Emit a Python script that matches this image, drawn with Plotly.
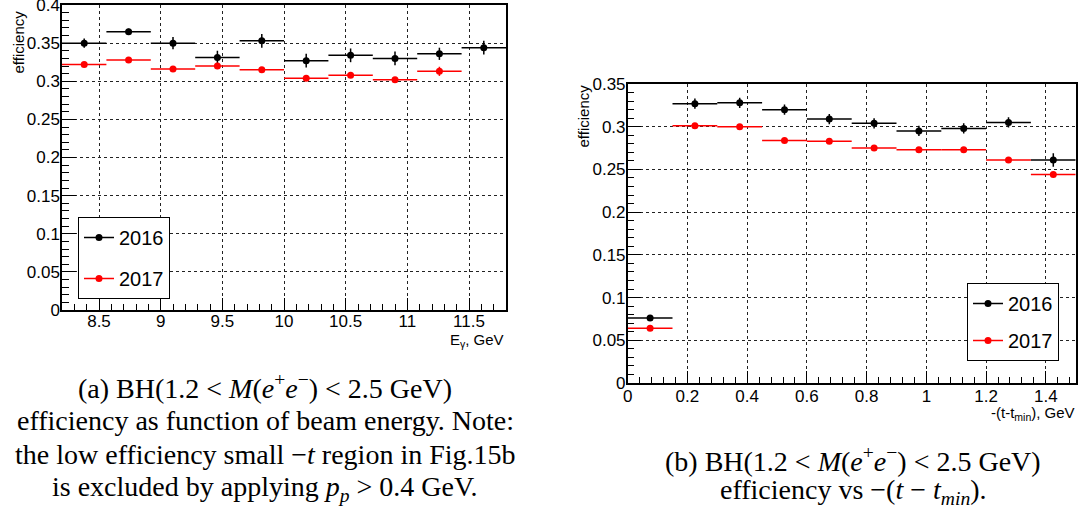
import plotly.graph_objects as go

# ---------------- data ----------------
# (a) efficiency vs beam energy
e_centers = [8.38, 8.74, 9.10, 9.46, 9.82, 10.18, 10.54, 10.90, 11.26, 11.62]
e_halfwidth = [0.18, 0.18, 0.18, 0.18, 0.18, 0.18, 0.18, 0.18, 0.18, 0.18]
eff16_E = [0.350, 0.365, 0.350, 0.331, 0.353, 0.327, 0.334, 0.330, 0.336, 0.344]
err16_E = [0.006, 0.004, 0.008, 0.009, 0.009, 0.009, 0.009, 0.009, 0.008, 0.009]
eff17_E = [0.322, 0.328, 0.316, 0.320, 0.315, 0.304, 0.308, 0.302, 0.313, None]
err17_E = [0.002, 0.002, 0.002, 0.004, 0.002, 0.002, 0.002, 0.002, 0.006, 0.0]

# (b) efficiency vs -(t - tmin)
t_centers = [0.075, 0.225, 0.375, 0.525, 0.675, 0.825, 0.975, 1.125, 1.275, 1.425]
t_halfwidth = [0.075, 0.075, 0.075, 0.075, 0.075, 0.075, 0.075, 0.075, 0.075, 0.075]
eff16_t = [0.076, 0.327, 0.328, 0.320, 0.309, 0.304, 0.295, 0.298, 0.305, 0.261]
err16_t = [0.002, 0.006, 0.006, 0.006, 0.006, 0.006, 0.006, 0.006, 0.006, 0.008]
eff17_t = [0.064, 0.301, 0.300, 0.284, 0.283, 0.275, 0.273, 0.273, 0.261, 0.244]
err17_t = [0.002, 0.002, 0.002, 0.002, 0.002, 0.002, 0.002, 0.002, 0.002, 0.002]

series_names = ["2016", "2017"]
series_colors = ["#000000", "#ff0000"]

caption_a = [
    "(a) BH(1.2 &lt; <i>M</i>(<i>e</i><sup>+</sup><i>e</i><sup>−</sup>) &lt; 2.5 GeV)",
    "efficiency as function of beam energy. Note:",
    "the low efficiency small −<i>t</i> region in Fig.15b",
    "is excluded by applying <i>p</i><sub><i>p</i></sub> &gt; 0.4 GeV.",
]
caption_b = [
    "(b) BH(1.2 &lt; <i>M</i>(<i>e</i><sup>+</sup><i>e</i><sup>−</sup>) &lt; 2.5 GeV)",
    "efficiency vs −(<i>t</i> − <i>t</i><sub><i>min</i></sub>).",
]

W, H = 1079, 518
SANS = "Liberation Sans, Arial, sans-serif"
SERIF = "Liberation Serif, Times New Roman, serif"

fig = go.Figure()


def add_hist(x, hw, y, err, color, xa, ya):
    fig.add_trace(go.Scatter(
        x=x, y=y, mode="markers", xaxis=xa, yaxis=ya, showlegend=False,
        marker=dict(color=color, size=7, symbol="circle"),
        error_x=dict(type="data", array=hw, symmetric=True, color=color,
                     thickness=1.5, width=0),
        error_y=dict(type="data", array=err, symmetric=True, color=color,
                     thickness=1.5, width=0),
        hoverinfo="x+y",
    ))


add_hist(e_centers, e_halfwidth, eff16_E, err16_E, series_colors[0], "x", "y")
add_hist(e_centers, e_halfwidth, eff17_E, err17_E, series_colors[1], "x", "y")
add_hist(t_centers, t_halfwidth, eff16_t, err16_t, series_colors[0], "x2", "y2")
add_hist(t_centers, t_halfwidth, eff17_t, err17_t, series_colors[1], "x2", "y2")

# legend entries (marker with line, ROOT style)
for lg, xa, ya in [("legend", "x", "y"), ("legend2", "x2", "y2")]:
    for name, col in zip(series_names, series_colors):
        fig.add_trace(go.Scatter(
            x=[None], y=[None], mode="lines+markers", name=name,
            xaxis=xa, yaxis=ya, legend=lg, legendgroup=lg + name,
            line=dict(color=col, width=1.5),
            marker=dict(color=col, size=7),
        ))

grid = dict(showgrid=True, gridcolor="#222222", gridwidth=1, griddash="dot",
            zeroline=False, showline=True, linecolor="black", linewidth=1.5,
            mirror=True, ticks="inside", tickcolor="black", automargin=False,
            ticklabeloverflow="allow",
            tickfont=dict(family=SANS, size=17, color="black"))

fig.update_layout(
    width=W, height=H, margin=dict(l=0, r=0, t=0, b=0, autoexpand=False),
    paper_bgcolor="white", plot_bgcolor="white", showlegend=True,
    xaxis=dict(domain=[62 / W, 506 / W], range=[8.2, 11.8], dtick=0.5, tick0=0,
               ticklen=12, anchor="y", ticklabelstandoff=-5,
               minor=dict(ticks="inside", ticklen=6, dtick=0.1, tick0=0,
                          tickcolor="black", showgrid=False), **grid),
    yaxis=dict(domain=[1 - 310 / H, 1 - 5 / H], range=[0, 0.4], dtick=0.05, tick0=0,
               ticklen=14, anchor="x", ticklabelstandoff=-3,
               minor=dict(ticks="inside", ticklen=7, dtick=0.01, tick0=0,
                          tickcolor="black", showgrid=False), **grid),
    xaxis2=dict(domain=[627.7 / W, 1075.7 / W], range=[0, 1.5], dtick=0.2, tick0=0,
                ticklen=12, anchor="y2", ticklabelstandoff=-3,
                minor=dict(ticks="inside", ticklen=6, dtick=0.04, tick0=0,
                           tickcolor="black", showgrid=False), **grid),
    yaxis2=dict(domain=[1 - 383 / H, 1 - 84 / H], range=[0, 0.35], dtick=0.05, tick0=0,
                ticklen=14, anchor="x2", ticklabelstandoff=-3,
                minor=dict(ticks="inside", ticklen=7, dtick=0.01, tick0=0,
                           tickcolor="black", showgrid=False), **grid),
    legend=dict(x=78 / W, y=1 - 217 / H, xanchor="left", yanchor="top",
                bgcolor="white", bordercolor="black", borderwidth=1,
                font=dict(family=SANS, size=20, color="black"),
                tracegroupgap=12, traceorder="grouped", itemwidth=30),
    legend2=dict(x=967 / W, y=1 - 283 / H, xanchor="left", yanchor="top",
                 bgcolor="white", bordercolor="black", borderwidth=1,
                 font=dict(family=SANS, size=20, color="black"),
                 tracegroupgap=8, traceorder="grouped", itemwidth=30),
)

ann = []
# axis titles
ann.append(dict(text="efficiency", x=18 / W, y=1 - 9 / H, xref="paper", yref="paper",
                xanchor="center", yanchor="top", textangle=-90, showarrow=False,
                font=dict(family=SANS, size=15, color="black")))
ann.append(dict(text="efficiency", x=583 / W, y=1 - 83 / H, xref="paper", yref="paper",
                xanchor="center", yanchor="top", textangle=-90, showarrow=False,
                font=dict(family=SANS, size=15, color="black")))
ann.append(dict(text="E<sub>γ</sub>, GeV", x=506 / W, y=1 - 329 / H, xref="paper",
                yref="paper", xanchor="right", yanchor="top", showarrow=False,
                font=dict(family=SANS, size=15, color="black")))
ann.append(dict(text="-(t-t<sub>min</sub>), GeV", x=1077 / W, y=1 - 402 / H, xref="paper",
                yref="paper", xanchor="right", yanchor="top", showarrow=False,
                font=dict(family=SANS, size=15, color="black")))

# captions, one annotation per line
for i, line in enumerate(caption_a):
    ann.append(dict(text=line, x=265 / W, y=1 - (386 + 34 * i) / H, xref="paper",
                    yref="paper", xanchor="center", yanchor="middle", showarrow=False,
                    font=dict(family=SERIF, size=28, color="black")))
for i, line in enumerate(caption_b):
    ann.append(dict(text=line, x=853 / W, y=1 - (459 + 32 * i) / H, xref="paper",
                    yref="paper", xanchor="center", yanchor="middle", showarrow=False,
                    font=dict(family=SERIF, size=28, color="black")))
fig.update_layout(annotations=ann)

fig.write_html(
    "out.html",
    config={"displayModeBar": False},
    post_script="document.body.style.margin='0';document.body.style.padding='0';"
                "document.documentElement.style.overflow='hidden';",
)
